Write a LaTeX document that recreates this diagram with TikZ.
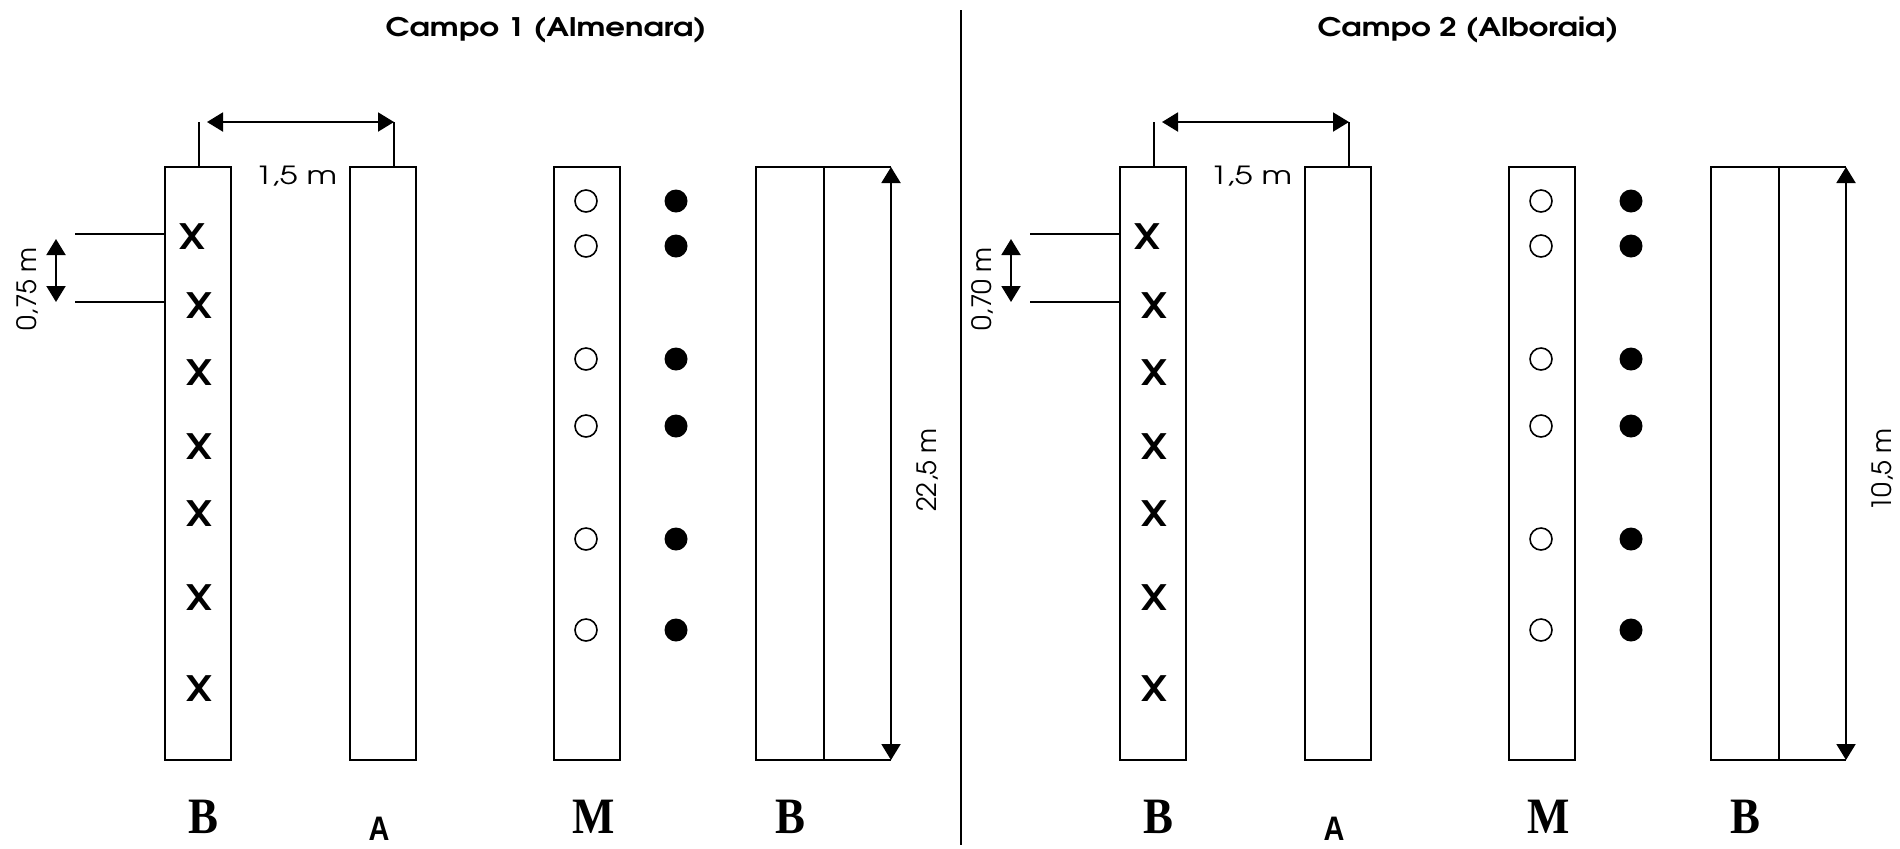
\documentclass[tikz,border=0pt]{standalone}
\usepackage{fontspec}
\usetikzlibrary{arrows.meta}
\newfontfamily\gothic{texgyreadventor}[Extension=.otf, UprightFont=*-regular, BoldFont=*-bold]
\newfontfamily\lserif{Liberation Serif}
\newfontfamily\lsans{Liberation Sans}
\tikzset{
  plotbox/.style={draw, line width=1pt, minimum width=33pt, minimum height=296.5pt, inner sep=0pt, outer sep=0pt},
  dimarrow/.style={line width=1pt, {Triangle[length=8pt,width=9.5pt]}-{Triangle[length=8pt,width=9.5pt]}},
  dimtext/.style={font=\gothic\fontsize{13.3}{13.3}\selectfont, inner sep=0pt},
  hdimtext/.style={font=\gothic\fontsize{12.5}{12.5}\selectfont, xscale=1.3, inner sep=0pt},
  titletext/.style={font=\gothic\bfseries\fontsize{12.8}{12.8}\selectfont, xscale=1.2, inner sep=0pt},
  xmark/.style={font=\gothic\bfseries\fontsize{17.5}{17.5}\selectfont, xscale=1.08, inner sep=0pt},
  opencirc/.style={circle, draw, line width=0.8pt, minimum size=11pt, inner sep=0pt},
  fulldot/.style={circle, fill, minimum size=11.5pt, inner sep=0pt},
  lbl/.style={font=\lserif\bfseries\fontsize{25.5}{25.5}\selectfont, xscale=0.88, inner sep=0pt},
  lbla/.style={font=\lsans\bfseries\fontsize{17}{17}\selectfont, xscale=0.85, inner sep=0pt, anchor=base},
  thin/.style={line width=1pt}
}
\newcommand\campo[4]{%
\begin{scope}[shift={(#2,0)}]
  \node[plotbox] (#1b) at (198,463.5) {};
  \node[plotbox] (#1a) at (382.5,463.5) {};
  \node[plotbox] (#1m) at (587,463.5) {};
  \node[plotbox, draw=none, minimum width=67.5pt] (#1bb) at (823.5,463.5) {};
  \draw[thin] (#1bb.north east) -- (#1bb.north west) -- (#1bb.south west) -- (#1bb.south east);
  \draw[thin] (#1bb.north) -- (#1bb.south);
  \draw[dimarrow] (#1bb.north east) -- (#1bb.south east);
  \node[dimtext, rotate=90] (#1long) at (927,470) {#4};
  % horizontal dimension
  \draw[thin] ([xshift=0.5pt]#1b.north) -- ++(0,-45) coordinate (#1t1);
  \draw[thin] ([xshift=5.75pt]#1a.north) -- ++(0,-45) coordinate (#1t2);
  \draw[dimarrow] ([xshift=4pt]#1t1) -- (#1t2);
  \node[hdimtext] (#1w) at (296,176) {1,5 m};
  % spacing dimension
  \coordinate (#1l1) at (75,234);
  \coordinate (#1l2) at (75,302);
  \draw[thin] (#1l1) -- (#1l1 -| #1b.west);
  \draw[thin] (#1l2) -- (#1l2 -| #1b.west);
  \coordinate (#1s1) at (56,239);
  \coordinate (#1s2) at (56,302);
  \draw[dimarrow] (#1s1) -- (#1s2);
  \node[dimtext, rotate=90] (#1sp) at (27,289) {#3};
  % plants
  \foreach \i/\xx/\yy in {1/192/237, 2/199/306, 3/199/373, 4/199/447, 5/199/514, 6/199/598, 7/199/689}
    \node[xmark] (#1x\i) at (\xx,\yy) {X};
  \foreach \i/\yy in {1/201, 2/246, 3/359, 4/426, 5/539, 6/630}{
    \node[opencirc] (#1o\i) at (586,\yy) {};
    \node[fulldot] (#1d\i) at (676,\yy) {};
  }
  % labels
  \node[lbl] (#1L1) at (203,817) {B};
  \node[lbla] (#1L2) at (379,840) {A};
  \node[lbl] (#1L3) at (594,817) {M};
  \node[lbl] (#1L4) at (790,817) {B};
\end{scope}}
\begin{document}
\begin{tikzpicture}[x=0.5pt, y=-0.5pt]
  \useasboundingbox (0,0) rectangle (1900,848);
  \node[titletext] (t1) at (546,30) {Campo 1 (Almenara)};
  \node[titletext] (t2) at (1468,30) {Campo 2 (Alboraia)};
  \coordinate (rtop) at (961,10);
  \coordinate (rbot) at (961,845);
  \draw[thin] (rtop) -- (rbot);
  \campo{p}{0}{0,75 m}{22,5 m}
  \campo{q}{955}{0,70 m}{10,5 m}
\end{tikzpicture}
\end{document}
